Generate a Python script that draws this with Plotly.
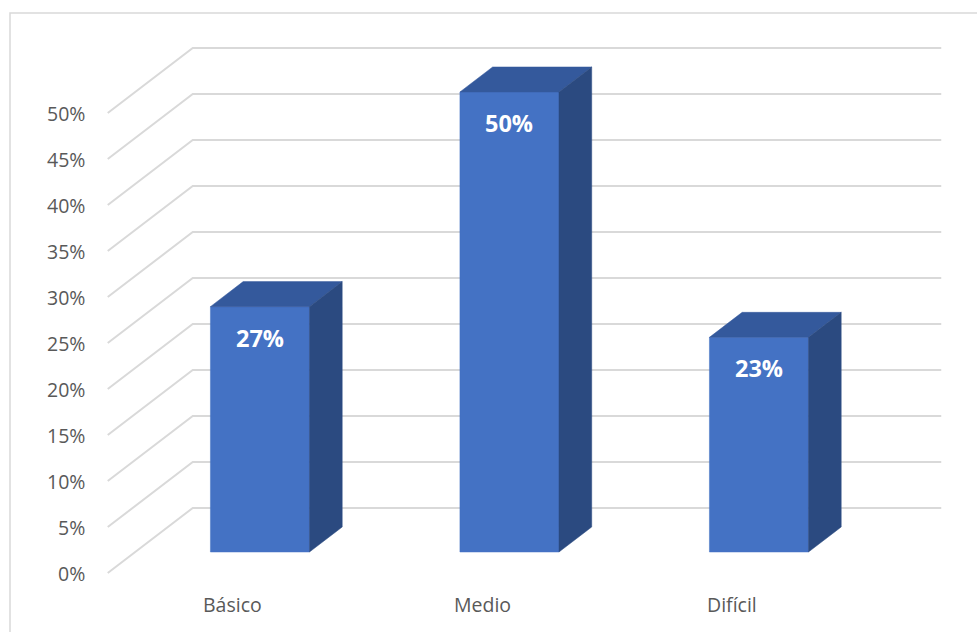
import plotly.graph_objects as go

# ---- data ----
categories = ["Básico", "Medio", "Difícil"]
values = [26.67, 50.0, 23.33]          # percent
value_labels = ["27%", "50%", "23%"]
tick_values = [0, 5, 10, 15, 20, 25, 30, 35, 40, 45, 50]
tick_labels = [f"{t}%" for t in tick_values]

# ---- style / geometry (axis units) ----
W, H = 977, 632
PX_X = 249.5      # px per category unit
PX_Y = 9.2        # px per percent
X0_PX = 232.5     # px position of category 0 (front plane)
Y0_PX = 573.0     # px position of 0% (front plane)
DEPTH_X = 85 / PX_X   # full depth offset (x units)
DEPTH_Y = 65 / PX_Y   # full depth offset (y units)
BAR_FRONT, BAR_BACK = 0.323, 0.708
HALF_W = 0.1985

FRONT_C = "#4472C4"
TOP_C = "#34599C"
SIDE_C = "#2B4A80"
GRID_C = "#D9D9D9"
TEXT_C = "#595959"
FONT = "Open Sans"

def off(d):
    return DEPTH_X * d, DEPTH_Y * d

fig = go.Figure()

# gridlines (floor/side wall diagonal + back wall horizontal)
bx, by = off(1.0)
for t in tick_values:
    fig.add_trace(go.Scatter(
        x=[-0.5, -0.5 + bx, len(categories) - 0.5 + bx],
        y=[t, t + by, t + by],
        mode="lines", line=dict(color=GRID_C, width=2),
        hoverinfo="skip", showlegend=False))

# bars
fx, fy = off(BAR_FRONT)
kx, ky = off(BAR_BACK)
for i, v in enumerate(values):
    l, r = i - HALF_W, i + HALF_W
    polys = [
        ([l + fx, r + fx, r + fx, l + fx], [fy, fy, v + fy, v + fy], FRONT_C),
        ([l + fx, r + fx, r + kx, l + kx], [v + fy, v + fy, v + ky, v + ky], TOP_C),
        ([r + fx, r + kx, r + kx, r + fx], [fy, ky, v + ky, v + fy], SIDE_C),
    ]
    for xs, ys, c in polys:
        fig.add_trace(go.Scatter(
            x=xs + [xs[0]], y=ys + [ys[0]], fill="toself", fillcolor=c,
            mode="lines", line=dict(color=c, width=0.5),
            hoverinfo="skip", showlegend=False))

annotations = []
# y tick labels
for t, lab in zip(tick_values, tick_labels):
    annotations.append(dict(x=-0.5, y=t, text=lab, showarrow=False,
                            xanchor="right", yanchor="middle", xshift=-21,
                            font=dict(family=FONT, size=19.5, color=TEXT_C)))
# category labels
for i, c in enumerate(categories):
    annotations.append(dict(x=i, y=0, text=c, showarrow=False,
                            xanchor="center", yanchor="middle", yshift=-31,
                            font=dict(family=FONT, size=19.5, color=TEXT_C)))
# data labels
for i, (v, lab) in enumerate(zip(values, value_labels)):
    annotations.append(dict(x=i + fx, y=v + fy, text=f"<b>{lab}</b>", showarrow=False,
                            xanchor="center", yanchor="middle", yshift=-31,
                            font=dict(family=FONT, size=23.5, color="white")))

xr = [-X0_PX / PX_X, (W - X0_PX) / PX_X]
yr = [(Y0_PX - H) / PX_Y, Y0_PX / PX_Y]

fig.update_layout(
    width=W, height=H, autosize=False,
    margin=dict(l=0, r=0, t=0, b=0),
    paper_bgcolor="white", plot_bgcolor="white",
    xaxis=dict(range=xr, visible=False, domain=[0, 1], fixedrange=True),
    yaxis=dict(range=yr, visible=False, domain=[0, 1], fixedrange=True),
    annotations=annotations,
    shapes=[dict(type="rect", xref="paper", yref="paper",
                 x0=10 / W, x1=1.02, y0=-0.02, y1=1 - 13 / H,
                 line=dict(color=GRID_C, width=1.5), fillcolor="rgba(0,0,0,0)",
                 layer="below")],
)

fig.write_html("out.html", config={"displayModeBar": False},
               post_script="document.body.style.margin='0';")
